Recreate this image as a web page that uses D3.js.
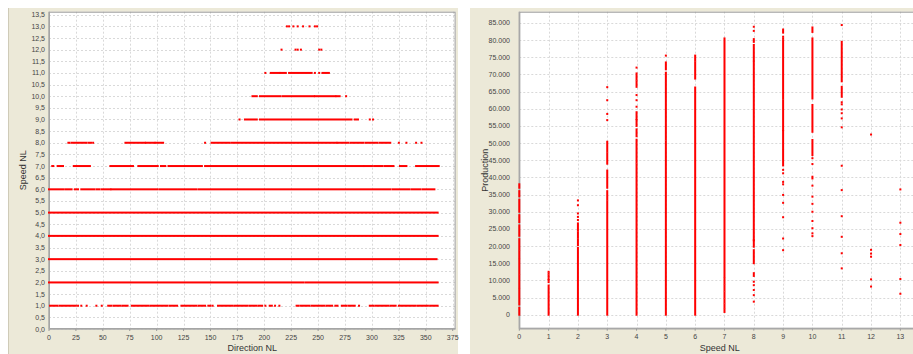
<!DOCTYPE html>
<html>
<head>
<meta charset="utf-8">
<script src="https://cdn.jsdelivr.net/npm/d3@7/dist/d3.min.js"></script>
<style>
  body { margin: 0; background: #fff; }
  svg { display: block; font-family: "Liberation Sans", Arial, sans-serif; }
  .tick-label { font-size: 7px; fill: #444; }
  .axis-title { font-size: 9px; fill: #333; }
</style>
</head>
<body>
<svg id="chart" width="913" height="354"></svg>
<script>
// left chart: Speed NL (y) against Direction NL (x)
// each speed level holds runs [from, to] of direction or single directions
const speedLevels = [1, 2, 3, 4, 5, 6, 7, 8, 9, 10, 11, 12, 13];
const directionRuns = [
  [[1, 8], [10, 25], 27, 30, 35, 44, 49, [55, 58], [60, 66], [68, 73], [77, 92], [94, 110], [112, 119],
   [123, 137], [139, 145], [148, 150], 152, [157, 170], [172, 184], [186, 193], [195, 198], 201,
   [205, 207], 210, 214, [230, 232], [234, 242], [244, 256], [258, 263], [266, 268], [272, 276],
   [278, 284], 288, [298, 301], [303, 315], [317, 322], [325, 340], [342, 352], [354, 361]],
  [[0, 236], [238, 361]],
  [[0, 360]],
  [[0, 361]],
  [[0, 361]],
  [[0, 13], [15, 21], [24, 27], [30, 42], [44, 47], [49, 57], [58, 101], [103, 137], [139, 317],
   [319, 335], [337, 345], [347, 358]],
  [[3, 4], [8, 13], [23, 38], [57, 78], [83, 101], [104, 108], [111, 142], [145, 292], [293, 300],
   [302, 310], [312, 320], [326, 332], [341, 362]],
  [[18, 19], [21, 35], [37, 39], 41, [71, 89], [90, 98], [99, 106], 145, [151, 168], [170, 267],
   [268, 278], [280, 292], [294, 305], [307, 317], 325, 332, 341, 346],
  [177, [182, 193], [196, 281], [284, 287], 298, 301],
  [[189, 193], [196, 215], [217, 246], [247, 266], [267, 270], 276],
  [201, [206, 214], [215, 220], [223, 244], 247, 251, [254, 260]],
  [216, 229, 231, 234, 251, 253],
  [221, 223, 227, 231, 236, 242, 247, 249]
];
const directionTicks = d3.range(0, 376, 25);
const speedTicksLeft = d3.range(0, 13.51, 0.5);

// right chart: Production (y) against Speed NL (x)
const speedColumns = [0, 1, 2, 3, 4, 5, 6, 7, 8, 9, 10, 11, 12, 13];
const productionRuns = [
  [[0, 2000], [3000, 7500], [8000, 11500], [12000, 16000], [16500, 18500], [19000, 22000],
   [23000, 26000], [27000, 29000], [30000, 33500], [34500, 36000], [37000, 38000]],
  [[0, 8500], 9500, 10100, 10400, 11000, 11500, 12000, 12500],
  [[0, 19500], [20300, 22000], [22500, 24000], [24500, 26600], 27600, 28500, 29500, 31900, 33300],
  [[0, 33000], [33500, 36000], [37000, 42000], [44000, 47000], [47500, 50400], 56700, 58500, 62500, 66300],
  [[0, 43800], [44300, 51000], [52000, 54000], [55000, 56700], [57000, 59000], 60600, 62500, 64000,
   [66400, 68000], [68500, 70300], 72000],
  [[0, 50500], [51000, 67500], [68000, 70500], [71500, 73500], 75500],
  [[0, 66200], [68800, 71000], [71500, 73500], [74000, 75500]],
  [[800, 1500], [2000, 3000], [3500, 4500], [5000, 6500], [7000, 8500], [9000, 10500], [11000, 80500]],
  [3800, 5700, 7200, 8600, 9600, [11300, 12100], [15000, 18800], [19800, 21700], [21700, 73700],
   [74100, 78600], [79500, 80300], 82700, 83900],
  [18800, 22200, 28400, 32600, 34900, 38000, 38700, 41200, 42200, [43500, 48000], [48500, 53500],
   [53800, 62500], [63000, 80000], 80500, 81000, [82200, 83100]],
  [22900, 23700, 25200, 27300, 30000, 32300, 34400, 37600, [39700, 40200], 43900, 45600,
   [46500, 50900], [53300, 61100], [63000, 80500], [82400, 83700]],
  [13500, 17900, 22700, 28700, 36300, 43400, 54600, 57200, 58700, 59800, 61300, 61900,
   [63500, 66400], [68000, 79500], 84400],
  [8200, 10300, 16900, 17800, 18900, 52500],
  [6100, 10400, 20300, 23500, 26800, 36500]
];
const speedTicksRight = d3.range(0, 14, 1);
const productionTicks = d3.range(0, 85001, 5000);

const locale = d3.formatLocale({decimal: ',', thousands: '.', grouping: [3], currency: ['', '']});
const fmtSpeed = locale.format('.1f');
const fmtProd = locale.format(',d');

const svg = d3.select('#chart');

// panels
svg.append('rect').attr('x', 8).attr('y', 8).attr('width', 450).attr('height', 346).attr('fill', '#ece9d8');
svg.append('line').attr('x1', 8.5).attr('x2', 8.5).attr('y1', 8).attr('y2', 354).attr('stroke', '#cfcbb8');
svg.append('rect').attr('x', 470).attr('y', 8).attr('width', 443).attr('height', 346).attr('fill', '#ece9d8');

function drawPlot(opts) {
  const {x, y, xTicks, yTicks, xFmt, yFmt, id, yLabelX, xTitle, yTitle, yTitleX} = opts;
  const [x0, x1] = x.range();
  const [y0, y1] = y.range(); // y0 bottom, y1 top
  const g = svg.append('g');

  g.append('rect').attr('x', x0).attr('y', y1).attr('width', x1 - x0).attr('height', y0 - y1).attr('fill', '#fff');

  // grid
  g.selectAll('.gx').data(xTicks).enter().append('line')
    .attr('x1', d => Math.round(x(d)) + 0.5).attr('x2', d => Math.round(x(d)) + 0.5)
    .attr('y1', y1).attr('y2', y0)
    .attr('stroke', '#d9d9d9').attr('stroke-dasharray', '2,2');
  g.selectAll('.gy').data(yTicks).enter().append('line')
    .attr('x1', x0).attr('x2', x1)
    .attr('y1', d => Math.round(y(d)) + 0.5).attr('y2', d => Math.round(y(d)) + 0.5)
    .attr('stroke', '#d9d9d9').attr('stroke-dasharray', '2,2');

  // outline and axis lines
  g.append('rect').attr('x', x0 + 0.5).attr('y', y1 + 0.5).attr('width', x1 - x0 - 1).attr('height', y0 - y1 - 1)
    .attr('fill', 'none').attr('stroke', '#9a9a9a');
  g.append('line').attr('x1', x0).attr('x2', x1).attr('y1', y0).attr('y2', y0)
    .attr('stroke', '#a8a8a8').attr('stroke-width', 1.5);
  g.append('line').attr('x1', x0).attr('x2', x0).attr('y1', y1).attr('y2', y0)
    .attr('stroke', '#a8a8a8').attr('stroke-width', 1.5);

  svg.append('clipPath').attr('id', id).append('rect')
    .attr('x', x0 - 2).attr('y', y1).attr('width', x1 - x0 + 2).attr('height', y0 - y1);
  const marks = g.append('g').attr('clip-path', `url(#${id})`);

  // ticks and labels
  g.selectAll('.tx').data(xTicks).enter().append('line')
    .attr('x1', d => x(d)).attr('x2', d => x(d)).attr('y1', y0).attr('y2', y0 + 2)
    .attr('stroke', '#999');
  g.selectAll('.lx').data(xTicks).enter().append('text')
    .attr('class', 'tick-label').attr('text-anchor', 'middle')
    .attr('x', d => x(d)).attr('y', y0 + 10.5).text(xFmt);
  g.selectAll('.ly').data(yTicks).enter().append('text')
    .attr('class', 'tick-label').attr('text-anchor', 'end')
    .attr('x', yLabelX).attr('y', d => y(d) + 2.5).text(yFmt);

  g.append('text').attr('class', 'axis-title').attr('text-anchor', 'middle')
    .attr('x', (x0 + x1) / 2).attr('y', y0 + 22).text(xTitle);
  g.append('text').attr('class', 'axis-title').attr('text-anchor', 'middle')
    .attr('transform', `translate(${yTitleX},${(y0 + y1) / 2}) rotate(-90)`).text(yTitle);

  return marks;
}

const half = 1.0;

// left chart
const xDir = d3.scaleLinear().domain([0, 377.7]).range([49, 455.6]);
const ySpeed = d3.scaleLinear().domain([0, 13.63]).range([329, 11.7]);
const leftMarks = drawPlot({
  x: xDir, y: ySpeed, xTicks: directionTicks, yTicks: speedTicksLeft,
  xFmt: d3.format('d'), yFmt: fmtSpeed, id: 'clipL', yLabelX: 45,
  xTitle: 'Direction NL', yTitle: 'Speed NL', yTitleX: 26
});
speedLevels.forEach((s, i) => {
  leftMarks.selectAll(null).data(directionRuns[i]).enter().append('rect')
    .attr('x', d => xDir(Array.isArray(d) ? d[0] : d) - half)
    .attr('width', d => Array.isArray(d) ? xDir(d[1]) - xDir(d[0]) + 2 * half : 2 * half)
    .attr('y', ySpeed(s) - half).attr('height', 2 * half)
    .attr('fill', '#ff0000');
});

// right chart
const xSpeed = d3.scaleLinear().domain([0, 13.67]).range([519.3, 920]);
const yProd = d3.scaleLinear().domain([-4080, 88290]).range([328.7, 11.7]);
const rightMarks = drawPlot({
  x: xSpeed, y: yProd, xTicks: speedTicksRight, yTicks: productionTicks,
  xFmt: d3.format('d'), yFmt: fmtProd, id: 'clipR', yLabelX: 510,
  xTitle: 'Speed NL', yTitle: 'Production', yTitleX: 488
});
speedColumns.forEach((s, i) => {
  rightMarks.selectAll(null).data(productionRuns[i]).enter().append('rect')
    .attr('x', xSpeed(s) - half).attr('width', 2 * half)
    .attr('y', d => yProd(Array.isArray(d) ? d[1] : d) - half)
    .attr('height', d => Array.isArray(d) ? yProd(d[0]) - yProd(d[1]) + 2 * half : 2 * half)
    .attr('fill', '#ff0000');
});
</script>
</body>
</html>
